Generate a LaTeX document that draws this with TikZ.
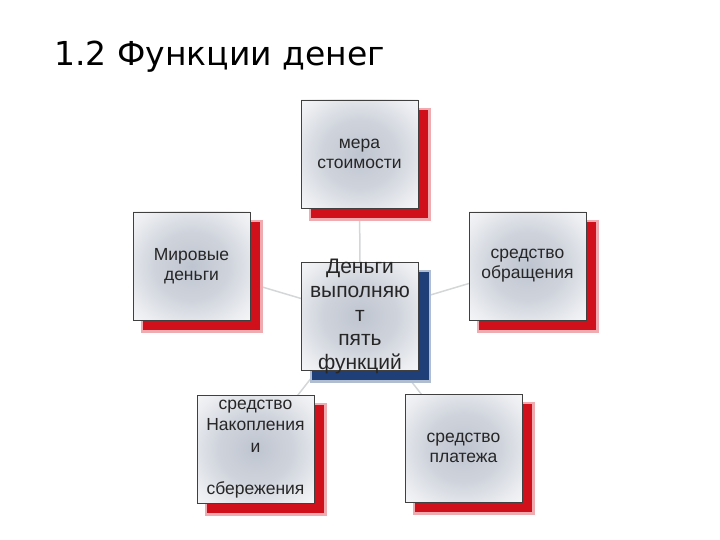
\documentclass[tikz,border=0pt]{standalone}
\usepackage{fontspec}
\setmainfont{Liberation Sans}
\newfontfamily\titlefont{DejaVu Sans}
\usetikzlibrary{shadows,backgrounds}

\definecolor{boxmid}{HTML}{BFC5D0}
\definecolor{shadred}{HTML}{D0101A}
\definecolor{shadblue}{HTML}{1E3F78}
\definecolor{linkgray}{HTML}{D4D6D8}
\pgfdeclareradialshading{boxglow}{\pgfpoint{0bp}{0bp}}{%
  color(0bp)=(boxmid); color(16bp)=(boxmid!75!white);
  color(30bp)=(boxmid!30!white); color(42bp)=(white); color(50bp)=(white)}

\tikzset{
  funcbox/.style={draw=black!75, line width=0.8pt, shading=boxglow,
    minimum width=117pt, minimum height=108pt, inner sep=0pt,
    align=center, text=black!85, font=\fontsize{17.5}{20}\selectfont},
  redbox/.style={funcbox,
    general shadow={fill=shadred!35, shadow xshift=10pt, shadow yshift=-10pt, shadow scale=1.04},
    general shadow={fill=shadred, shadow xshift=10pt, shadow yshift=-10pt}},
  bluebox/.style={funcbox,
    general shadow={fill=shadblue!35, shadow xshift=10pt, shadow yshift=-10pt, shadow scale=1.04},
    general shadow={fill=shadblue, shadow xshift=10pt, shadow yshift=-10pt}},
  link/.style={draw=linkgray, line width=1.5pt}
}

\begin{document}
\begin{tikzpicture}[x=1pt, y=-1pt]
  \useasboundingbox (0,0) rectangle (720,540);

  \node[anchor=base west, inner sep=0pt, font=\titlefont\fontsize{33}{38}\selectfont] (title) at (54,66) {1.2 Функции денег};

  \node[bluebox, label={[font=\fontsize{21}{24}\selectfont, align=center, text=black!85]center:Деньги\\выполняю\\т\\пять\\функций}] (money) at (360,316) {};

  \node[redbox] (mera) at (359.5,154) {мера\\стоимости};
  \node[redbox] (mir) at (191.5,266) {Мировые\\деньги};
  \node[redbox] (obr) at (527.5,266) {средство\\обращения};
  \node[redbox, font=\fontsize{17.5}{21.5}\selectfont] (nak) at (255.5,449) {средство\\Накопления\\и\\[21pt]сбережения};
  \node[redbox] (plat) at (463.5,448) {средство\\платежа};

  \begin{scope}[on background layer]
    \foreach \b in {mera,mir,obr,nak,plat}
      \draw[link] (money.center) -- (\b.center);
  \end{scope}
\end{tikzpicture}
\end{document}
